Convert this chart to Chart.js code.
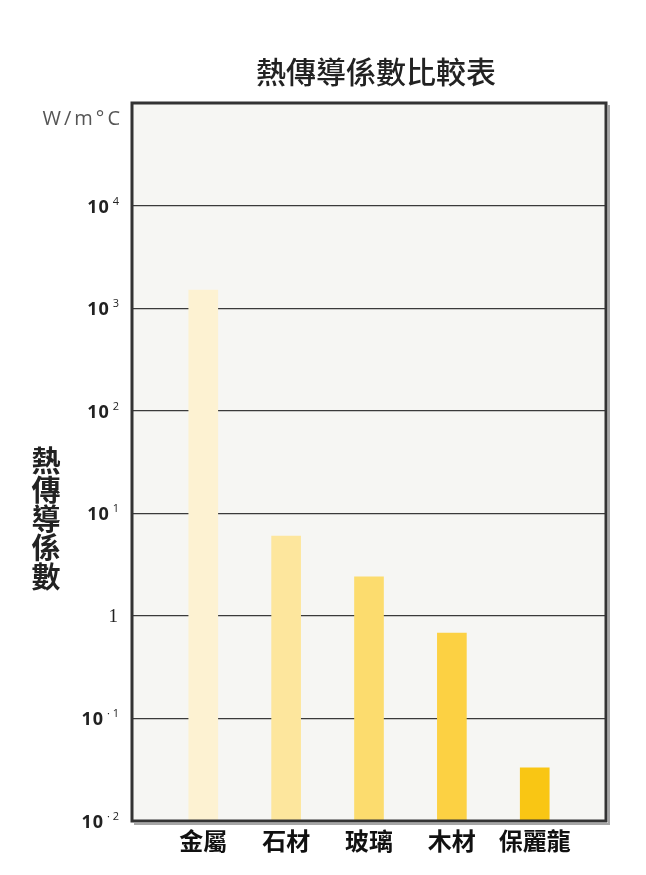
<!DOCTYPE html>
<html><head><meta charset="utf-8">
<script src="https://cdn.jsdelivr.net/npm/chart.js@4/dist/chart.umd.min.js"></script>
<style>html,body{margin:0;padding:0;background:#fff;}#wrap{width:646px;height:875px;}</style>
</head><body><div id="wrap"><canvas id="c" width="646" height="875"></canvas></div>
<script>
const categories = ['金屬','石材','玻璃','木材','保麗龍'];
const values = [1500, 6, 2.4, 0.68, 0.033];
const barColors = ['#fdf2d2','#fde69d','#fcdc6e','#fcd143','#f9c614'];
const tickValues = [0.01, 0.1, 1, 10, 100, 1000, 10000];
const tickExponents = ['-2','-1','','1','2','3','4'];
const chartTitle = '熱傳導係數比較表';
const yTitle = '熱傳導係數';
const unitLabel = 'W/m°C';

const CJK = '"Noto Sans CJK TC","Noto Sans CJK SC",sans-serif';

const deco = {
  id:'deco',
  beforeDraw(chart){
    const {ctx, chartArea:a} = chart;
    ctx.save();
    ctx.fillStyle = '#f6f6f3';
    ctx.fillRect(a.left, a.top, a.right-a.left, a.bottom-a.top);
    ctx.restore();
  },
  afterDraw(chart){
    const {ctx, chartArea:a} = chart;
    const ys = chart.scales.y;
    ctx.save();
    // shadow
    ctx.strokeStyle = 'rgba(0,0,0,0.35)';
    ctx.lineWidth = 2;
    ctx.beginPath();
    ctx.moveTo(a.right+3, a.top+2); ctx.lineTo(a.right+3, a.bottom+3); ctx.lineTo(a.left+2, a.bottom+3);
    ctx.stroke();
    ctx.strokeStyle = '#333';
    ctx.lineWidth = 3;
    ctx.strokeRect(a.left, a.top, a.right-a.left, a.bottom-a.top);
    // title
    ctx.fillStyle = '#222';
    ctx.textAlign = 'center';
    ctx.textBaseline = 'middle';
    ctx.font = '500 30px ' + CJK;
    ctx.fillText(chartTitle, (a.left+a.right)/2 + 7, 72);
    // unit
    ctx.font = '20px "Open Sans", sans-serif';
    ctx.fillStyle = '#555';
    ctx.textAlign = 'right';
    try { ctx.letterSpacing = '3px'; } catch(e){}
    ctx.fillText(unitLabel, 123, 119);
    // y tick labels with superscripts
    tickValues.forEach((v,i)=>{
      const y = ys.getPixelForValue(v);
      const ex = tickExponents[i];
      ctx.fillStyle = '#222';
      ctx.textBaseline = 'alphabetic';
      ctx.textAlign = 'right';
      try { ctx.letterSpacing = '0px'; } catch(e){}
      if (!ex) {
        ctx.font = '19px "Liberation Serif", serif';
        ctx.fillText('1', 118, y+6);
        return;
      }
      const et = ex.replace('-','· ');
      ctx.font = '11px "Open Sans", sans-serif';
      const ew = ctx.measureText(et).width;
      ctx.fillText(et, 119, y-1);
      ctx.font = 'bold 18px "Open Sans", sans-serif';
      try { ctx.letterSpacing = '1px'; } catch(e){}
      ctx.fillText('10', 119 - ew - 3, y+7);
    });
    try { ctx.letterSpacing = '0px'; } catch(e){}
    // y title vertical
    ctx.font = 'bold 29px ' + CJK;
    ctx.fillStyle = '#222';
    ctx.textAlign = 'center';
    ctx.textBaseline = 'middle';
    Array.from(yTitle).forEach((ch,i)=>{ ctx.fillText(ch, 46, 461 + i*29); });
    ctx.restore();
  }
};

new Chart(document.getElementById('c'), {
  type:'bar',
  data:{
    datasets:[{
      data: values.map((v,i)=>({x:i, y:v})),
      backgroundColor: barColors,
      barThickness: 29,
      borderWidth: 0
    }]
  },
  options:{
    responsive:false,
    animation:false,
    devicePixelRatio:1,
    layout:{padding:{top:103, right:40, left:0, bottom:0}},
    plugins:{legend:{display:false}, title:{display:false}, tooltip:{enabled:false}},
    scales:{
      x:{
        type:'linear',
        offset:false,
        min:-0.86, max:4.86,
        afterBuildTicks(s){ s.ticks = categories.map((c,i)=>({value:i})); },
        afterFit(s){ s.height = 54; },
        grid:{display:false, drawTicks:false},
        border:{display:false},
        ticks:{
          callback:(v)=>categories[v],
          color:'#111',
          font:{family:CJK, size:24, weight:'bold'},
          padding:5,
          maxRotation:0, autoSkip:false
        }
      },
      y:{
        type:'logarithmic',
        min:0.01, max:100000,
        afterBuildTicks(s){ s.ticks = tickValues.map(v=>({value:v})); },
        afterFit(s){ s.width = 132; },
        grid:{color:'#3a3a3a', lineWidth:1.2, drawTicks:false},
        border:{display:false},
        ticks:{ display:false }
      }
    }
  },
  plugins:[deco]
});
</script></body></html>
